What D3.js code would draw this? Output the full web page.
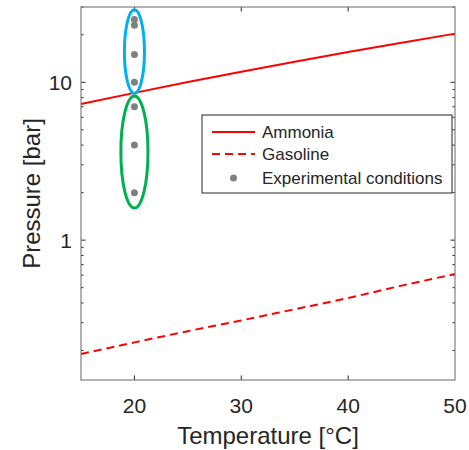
<!DOCTYPE html>
<html>
<head>
<meta charset="utf-8">
<title>vapor-pressure</title>
<style>
  body { margin: 0; background: #fff; }
  svg text { font-family: "Liberation Sans", Arial, sans-serif; fill: #262626; }
</style>
</head>
<body>
<script src="https://cdn.jsdelivr.net/npm/d3@7"></script>
<script>
// data
var temps = [15, 20, 25, 30, 35, 40, 45, 50];
var ammonia = [7.28, 8.57, 10.03, 11.67, 13.5, 15.55, 17.82, 20.33];
var gasoline = [0.19, 0.225, 0.265, 0.31, 0.365, 0.43, 0.515, 0.61];
var expT = [20, 20, 20, 20, 20, 20, 20];
var expP = [2, 4, 7, 10, 15, 23, 25];
var xTicks = [20, 30, 40, 50];
var yTicks = [1, 10];
var legendLabels = ["Ammonia", "Gasoline", "Experimental conditions"];
// ellipse groups: [T centre, T half width, P low, P high]
var ellipseGroups = [[20, 0.94, 8.5, 28.8], [20, 1.27, 1.6, 8.2]];
var ellipseColors = ["#00b0f0", "#00b050"];

var svgWidth = 469, svgHeight = 450;
var margin = { top: 7, right: 14, bottom: 70, left: 81 };
var width = svgWidth - margin.left - margin.right;
var height = svgHeight - margin.top - margin.bottom;

var x = d3.scaleLinear().domain([15, 50]).range([0, width]);
var y = d3.scaleLog().domain([0.13, 30]).range([height, 0]);

var svg = d3.select("body").append("svg")
    .attr("width", svgWidth).attr("height", svgHeight);
var g = svg.append("g").attr("transform", "translate(" + margin.left + "," + margin.top + ")");

// minor ticks
var minor = [];
[0.1, 1, 10].forEach(function (d) {
    for (var k = 2; k <= 9; k++) {
        var v = d * k;
        if (v >= 0.13 && v <= 30 && v !== 10) minor.push(v);
    }
});

var tickCol = "#262626";
var ticksG = g.append("g");
minor.forEach(function (v) {
    ticksG.append("line").attr("x1", 0).attr("x2", 2.5).attr("y1", y(v)).attr("y2", y(v)).attr("stroke", tickCol);
    ticksG.append("line").attr("x1", width).attr("x2", width - 2.5).attr("y1", y(v)).attr("y2", y(v)).attr("stroke", tickCol);
});
yTicks.forEach(function (v) {
    ticksG.append("line").attr("x1", 0).attr("x2", 4.5).attr("y1", y(v)).attr("y2", y(v)).attr("stroke", tickCol);
    ticksG.append("line").attr("x1", width).attr("x2", width - 4.5).attr("y1", y(v)).attr("y2", y(v)).attr("stroke", tickCol);
    g.append("text").attr("x", -9).attr("y", y(v)).attr("dy", "0.36em")
        .attr("text-anchor", "end").style("font-size", "21px").text(v);
});
xTicks.forEach(function (v) {
    if (v < 50) {
        ticksG.append("line").attr("x1", x(v)).attr("x2", x(v)).attr("y1", height).attr("y2", height - 4.5).attr("stroke", tickCol);
        ticksG.append("line").attr("x1", x(v)).attr("x2", x(v)).attr("y1", 0).attr("y2", 4.5).attr("stroke", tickCol);
    }
    g.append("text").attr("x", x(v)).attr("y", height + 33)
        .attr("text-anchor", "middle").style("font-size", "21px").text(v);
});

// lines
var line = d3.line().x(function (d) { return x(d[0]); }).y(function (d) { return y(d[1]); }).curve(d3.curveMonotoneX);
g.append("path").datum(d3.zip(temps, ammonia)).attr("d", line)
    .attr("fill", "none").attr("stroke", "#ff0000").attr("stroke-width", 2);
g.append("path").datum(d3.zip(temps, gasoline)).attr("d", line)
    .attr("fill", "none").attr("stroke", "#ff0000").attr("stroke-width", 2).attr("stroke-dasharray", "8,5");

// experimental points
g.selectAll(".pt").data(d3.zip(expT, expP)).enter().append("circle")
    .attr("cx", function (d) { return x(d[0]); })
    .attr("cy", function (d) { return y(d[1]); })
    .attr("r", 3.5).attr("fill", "#808080");

// ellipses
ellipseGroups.forEach(function (e, i) {
    var cx = x(e[0]);
    var rx = x(e[0] + e[1]) - cx;
    var yTop = y(e[3]), yBot = y(e[2]);
    g.append("ellipse").attr("cx", cx).attr("cy", (yTop + yBot) / 2)
        .attr("rx", rx).attr("ry", (yBot - yTop) / 2)
        .attr("fill", "none").attr("stroke", ellipseColors[i]).attr("stroke-width", 3);
});

// frame
g.append("rect").attr("width", width).attr("height", height)
    .attr("fill", "none").attr("stroke", "#808080").attr("stroke-width", 1.2);

// legend
var lg = svg.append("g").attr("transform", "translate(202,115)");
lg.append("rect").attr("width", 250).attr("height", 78)
    .attr("fill", "#fff").attr("stroke", "#262626").attr("stroke-width", 1);
var rows = [17, 39, 63];
legendLabels.forEach(function (t, i) {
    if (i === 0) lg.append("line").attr("x1", 10).attr("x2", 53).attr("y1", rows[i]).attr("y2", rows[i]).attr("stroke", "#ff0000").attr("stroke-width", 2);
    if (i === 1) lg.append("line").attr("x1", 10).attr("x2", 53).attr("y1", rows[i]).attr("y2", rows[i]).attr("stroke", "#ff0000").attr("stroke-width", 2).attr("stroke-dasharray", "8,5");
    if (i === 2) lg.append("circle").attr("cx", 31.5).attr("cy", rows[i]).attr("r", 3.5).attr("fill", "#808080");
    lg.append("text").attr("x", 60).attr("y", rows[i]).attr("dy", "0.36em").style("font-size", "17px").text(t);
});

// axis labels
svg.append("text").attr("x", margin.left + width / 2).attr("y", 444)
    .attr("text-anchor", "middle").style("font-size", "24px").text("Temperature [°C]");
svg.append("text").attr("transform", "translate(40," + (margin.top + height / 2) + ") rotate(-90)")
    .attr("text-anchor", "middle").style("font-size", "24px").text("Pressure [bar]");
</script>
</body>
</html>
